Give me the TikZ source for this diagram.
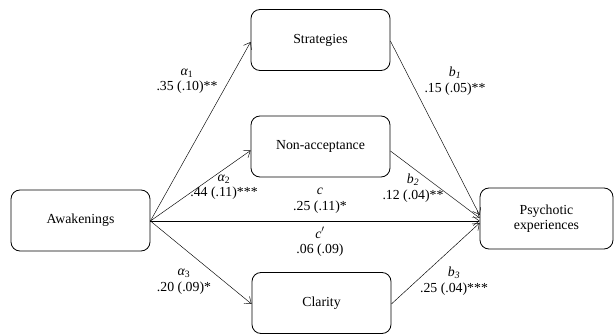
\documentclass[tikz,border=0pt]{standalone}
\usepackage{fontspec}
\setmainfont{Liberation Serif}
\usetikzlibrary{arrows.meta}
\begin{document}
\begin{tikzpicture}[x=1pt,y=-1pt,
  box/.style={draw, rounded corners=9pt, line width=0.8pt, minimum width=139pt, minimum height=61pt, align=center, inner sep=2pt, font=\fontsize{13.8}{15.5}\selectfont},
  conn/.style={line width=0.45pt, -{Straight Barb[length=6pt,width=9pt,line width=0.45pt]}},
  lab/.style={align=center, inner sep=0pt, font=\fontsize{13.8}{15.5}\selectfont}]
\useasboundingbox (0,0) rectangle (614,334);
\node[box] (str) at (320.5,40) {Strategies};
\node[box] (non) at (320.5,146.5) {Non-acceptance};
\node[box] (cla) at (321.5,303) {Clarity};
\node[box] (awa) at (80.5,220.5) {Awakenings};
\node[box, minimum width=133pt] (psy) at (546.5,218.5) {Psychotic\\experiences};
\coordinate (s) at ([yshift=-0.5pt]awa.east);
\draw[conn] (s) -- ([yshift=-2pt]str.west);
\draw[conn] (s) -- ([yshift=-4pt]non.west);
\draw[conn] (s) -- ([yshift=-1pt]cla.west);
\draw[conn] (s) -- ([yshift=-2.5pt]psy.west);
\draw[conn] ([yshift=-1pt]str.east) -- ([yshift=3.5pt]psy.west);
\draw[conn] ([yshift=-4.5pt]non.east) -- ([yshift=0.5pt]psy.west);
\draw[conn] ([yshift=-1pt]cla.east) -- ([yshift=-4.5pt]psy.west);
\node[lab] (l1) at (187,81) {{\itshape α}\textsubscript{1}\\.35 (.10)**};
\node[lab] (l2) at (224,187) {{\itshape α}\textsubscript{2}\\.44 (.11)***};
\node[lab] (l3) at (184,281.5) {{\itshape α}\textsubscript{3}\\.20 (.09)*};
\node[lab] (lc) at (320,200.5) {\textit{c}\\.25 (.11)*};
\node[lab] (lcp) at (320,242) {\textit{c\/}$'$\\.06 (.09)};
\node[lab] (lb1) at (455,81) {\textit{b\textsubscript{1}}\\.15 (.05)**};
\node[lab] (lb2) at (413,188) {\textit{b\textsubscript{2}}\\.12 (.04)**};
\node[lab] (lb3) at (454,281) {\textit{b\textsubscript{3}}\\.25 (.04)***};
\end{tikzpicture}
\end{document}
